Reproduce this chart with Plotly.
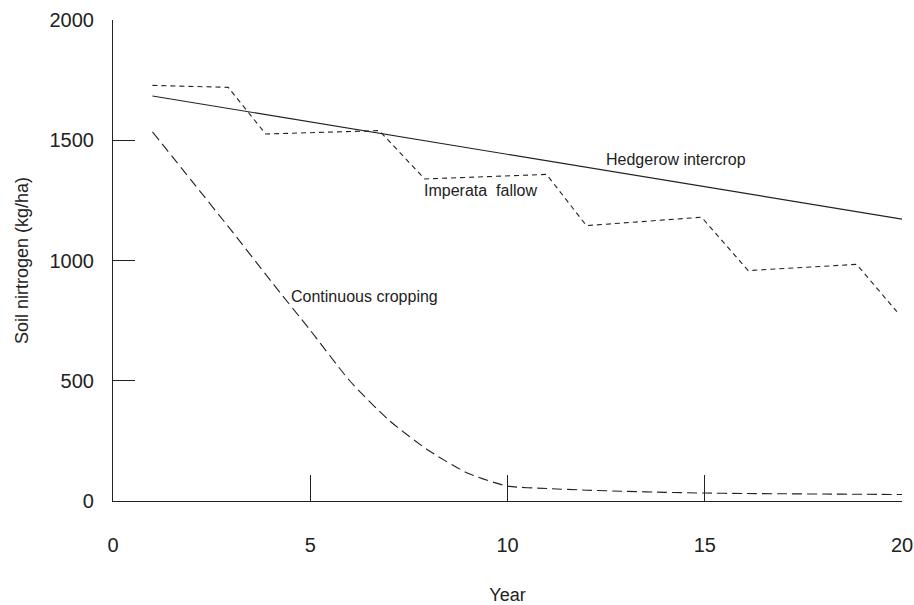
import plotly.graph_objects as go

# Data
hedgerow_years = [1, 20]
hedgerow_n = [1684, 1172]

imperata_years = [1, 2.92, 3.87, 6.75, 7.9, 10.99, 12.0, 14.92, 16.1, 18.85, 19.87]
imperata_n = [1728, 1720, 1526, 1540, 1339, 1358, 1145, 1180, 958, 984, 787]

continuous_years = list(range(1, 21))
continuous_n = [1535, 1330, 1125, 915, 710, 500, 335, 210, 115, 62,
                52, 45, 40, 36, 33, 31, 30, 29, 28, 27]

x_ticks = [0, 5, 10, 15, 20]
y_ticks = [0, 500, 1000, 1500, 2000]

FONT = "Liberation Sans, Arial, Helvetica, sans-serif"
INK = "#222222"

fig = go.Figure()
fig.add_trace(go.Scatter(x=hedgerow_years, y=hedgerow_n, mode="lines",
                         line=dict(color=INK, width=1.2), showlegend=False,
                         name="Hedgerow intercrop"))
fig.add_trace(go.Scatter(x=imperata_years, y=imperata_n, mode="lines",
                         line=dict(color=INK, width=1.1, dash="5px,4px"),
                         showlegend=False, name="Imperata fallow"))
fig.add_trace(go.Scatter(x=continuous_years, y=continuous_n, mode="lines",
                         line=dict(color=INK, width=1.1, dash="10px,5px", shape="spline", smoothing=0.6),
                         showlegend=False, name="Continuous cropping"))

ann_font = dict(family=FONT, size=16, color=INK)
fig.add_annotation(x=14.28, y=1418, text="Hedgerow intercrop", showarrow=False,
                   font=ann_font, xanchor="center", yanchor="middle")
fig.add_annotation(x=9.32, y=1293, text="Imperata&nbsp;&nbsp;fallow", showarrow=False,
                   font=ann_font, xanchor="center", yanchor="middle")
fig.add_annotation(x=6.37, y=852, text="Continuous cropping", showarrow=False,
                   font=ann_font, xanchor="center", yanchor="middle")

fig.update_layout(
    width=914, height=605,
    margin=dict(l=113, r=12, t=20, b=104),
    plot_bgcolor="white", paper_bgcolor="white",
    font=dict(family=FONT, size=20, color=INK),
    xaxis=dict(range=[0, 20], tickvals=x_ticks, ticks="inside", ticklen=26,
               tickwidth=1.2, tickcolor=INK, showline=True, linecolor=INK,
               linewidth=1.2, showgrid=False, zeroline=False, automargin=False,
               ticklabelstandoff=26,
               title=dict(text="Year", font=dict(size=18), standoff=44)),
    yaxis=dict(range=[0, 2000], tickvals=y_ticks, ticks="inside", ticklen=22,
               tickwidth=1.2, tickcolor=INK, showline=True, linecolor=INK,
               linewidth=1.2, showgrid=False, zeroline=False, automargin=False,
               ticklabelstandoff=14,
               title=dict(text="Soil nirtrogen (kg/ha)", font=dict(size=18), standoff=16)),
)

fig.write_html("out.html", config={"displayModeBar": False},
               post_script="document.body.style.margin='0';document.body.style.overflow='hidden';")
